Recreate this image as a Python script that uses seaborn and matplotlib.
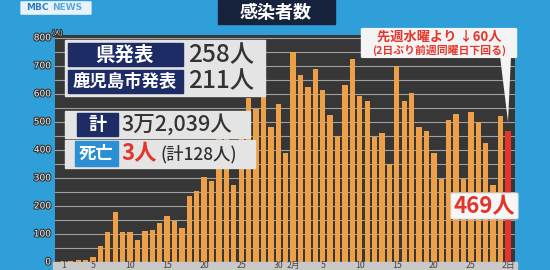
import matplotlib
matplotlib.use("Agg")
import matplotlib.pyplot as plt
import matplotlib.patheffects as pe
from matplotlib.patches import Rectangle, FancyBboxPatch, Polygon
import seaborn as sns
import pandas as pd

# ---- data ----
jan_values = [2, 3, 6, 8, 17, 58, 108, 179, 106, 106, 79, 111, 113, 138, 164, 146,
              121, 237, 255, 305, 289, 460, 470, 274, 510, 585, 545, 626, 481, 564, 390]
feb_values = [748, 668, 626, 688, 612, 525, 450, 632, 724, 593, 575, 445, 462, 349,
              700, 573, 602, 483, 468, 388, 295, 505, 529, 295, 536, 498, 426, 275]
mar_values = [521, 469]
days = ([f"1/{d}" for d in range(1, 32)] + [f"2/{d}" for d in range(1, 29)]
        + [f"3/{d}" for d in range(1, 3)])
values = jan_values + feb_values + mar_values
tick_days = ["1/1", "1/5", "1/10", "1/15", "1/20", "1/25", "1/30", "2/1",
             "2/5", "2/10", "2/15", "2/20", "2/25", "3/2"]
tick_labels = ["1", "5", "10", "15", "20", "25", "30", "2月", "5", "10", "15", "20", "25", "2日"]
y_ticks = [0, 100, 200, 300, 400, 500, 600, 700, 800]

W, H = 550, 270
BLUE = "#2f9fda"
DARK = "#373737"
ORANGE = "#EDA048"
RED = "#E5352B"
NAVY = "#1e2c66"

sns.set_theme(style="dark")
plt.rcParams['font.family'] = ['Noto Sans CJK JP', 'DejaVu Sans']

df = pd.DataFrame({"day": days, "value": values})
df["group"] = ["today" if i == len(days) - 1 else "past" for i in range(len(days))]

fig = plt.figure(figsize=(W / 100, H / 100), dpi=100, facecolor=BLUE)


def fx(x):
    return x / W


def fy(y):
    return 1 - y / H


# axes: x 55..515 px, y 35..262 px
ax = fig.add_axes([fx(55), fy(262), (515 - 55) / W, (262 - 35) / H])
ax.set_facecolor(DARK)
sns.barplot(data=df, x="day", y="value", hue="group", order=days,
            palette={"past": ORANGE, "today": RED}, dodge=False, legend=False,
            width=0.72, saturation=1, linewidth=0, edgecolor="none", ax=ax, zorder=3)
ax.set_xlim(-1.13, len(days) - 0.05)
ax.set_ylim(0, 810)
for v in range(50, 801, 50):
    ax.axhline(v, color="#a0a0a0", lw=0.8, zorder=1)
for s in ax.spines.values():
    s.set_visible(False)
ax.set_xlabel("")
ax.set_ylabel("")
ax.set_xticks([])
ax.set_yticks([])

# y tick labels (outlined)
outline = [pe.withStroke(linewidth=1.6, foreground="#333333")]
for v in y_ticks:
    fig.text(fx(51), fy(262 - v * 0.2802), str(v), ha="right", va="center",
             fontsize=6.5, color="#f0f0f0", path_effects=outline, family="DejaVu Sans")
fig.text(fx(52), fy(33), "(人)", ha="left", va="center", fontsize=4.5,
         color="#f0f0f0", path_effects=outline)

# bottom strip with x tick labels
fig.patches.append(Rectangle((fx(53), 0), (517 - 53) / W, (H - 262) / H,
                             transform=fig.transFigure, color="#c9c9c9", zorder=5))
for d, lab in zip(tick_days, tick_labels):
    i = days.index(d)
    xp = 55 + (i + 1.13) * (460 / (len(days) - 0.05 + 1.13))
    fig.text(fx(xp), fy(269.6), lab, ha="center", va="bottom", fontsize=6.3,
             color="#444444", zorder=6)

# title
fig.patches.append(Rectangle((fx(218), fy(24)), (335 - 218) / W, 24 / H,
                             transform=fig.transFigure, color="#17223c", zorder=5))
fig.text(fx(276), fy(12), "感染者数", ha="center", va="center", fontsize=13,
         color="white", weight="bold", zorder=6)

# logo
fig.patches.append(FancyBboxPatch((fx(22), fy(14)), 68 / W, 12 / H,
                                  boxstyle="round,pad=0.003", transform=fig.transFigure,
                                  facecolor="#e8f2fa", edgecolor="none", zorder=5))
fig.text(fx(26), fy(8), "MBC", ha="left", va="center", fontsize=6.5,
         color="#2a7fc4", weight="bold", family="DejaVu Sans", zorder=6)
fig.text(fx(52), fy(8), "NEWS", ha="left", va="center", fontsize=6.5,
         color="#5aa7dd", weight="bold", family="DejaVu Sans", zorder=6)


def rect(x0, y0, x1, y1, color, z=7):
    fig.patches.append(Rectangle((fx(x0), fy(y1)), (x1 - x0) / W, (y1 - y0) / H,
                                 transform=fig.transFigure, color=color, zorder=z))


PANEL = "#e4e4e4"
# Box A
rect(65, 40, 265, 96, PANEL)
rect(68, 43, 183, 66, NAVY, 8)
rect(68, 70, 183, 93, NAVY, 8)
fig.text(fx(125), fy(55), "県発表", ha="center", va="center", fontsize=14,
         color="white", weight="bold", zorder=9)
fig.text(fx(125), fy(81.5), "鹿児島市発表", ha="center", va="center", fontsize=12.5,
         color="white", weight="bold", zorder=9)
fig.text(fx(188), fy(55), "258人", ha="left", va="center", fontsize=17.5,
         color="#333333", weight="medium", zorder=9)
fig.text(fx(188), fy(81.5), "211人", ha="left", va="center", fontsize=17.5,
         color="#333333", weight="medium", zorder=9)

# Box B
rect(65, 111, 250, 138, PANEL)
rect(77, 113, 118, 136, NAVY, 8)
fig.text(fx(97.5), fy(124.5), "計", ha="center", va="center", fontsize=13,
         color="white", weight="bold", zorder=9)
fig.text(fx(121), fy(124.5), "3万2,039人", ha="left", va="center", fontsize=15.5,
         color="#333333", weight="medium", zorder=9)

# Box C
rect(65, 140, 255, 168, PANEL)
rect(75, 141, 118, 166, "#2a8fd3", 8)
fig.text(fx(96.5), fy(153.5), "死亡", ha="center", va="center", fontsize=12.5,
         color="white", weight="bold", zorder=9)
fig.text(fx(121), fy(153.5), "3人", ha="left", va="center", fontsize=16,
         color=RED, weight="bold", zorder=9)
fig.text(fx(160), fy(154.5), "(計128人)", ha="left", va="center", fontsize=12.5,
         color="#333333", weight="medium", zorder=9)

# callout
fig.patches.append(FancyBboxPatch((fx(363), fy(57)), (515 - 363) / W, (57 - 29) / H,
                                  boxstyle="round,pad=0.004", transform=fig.transFigure,
                                  facecolor="#f4f4f4", edgecolor="none", zorder=7))
fig.patches.append(Polygon([(fx(500), fy(56)), (fx(511), fy(56)), (fx(508), fy(122))],
                           closed=True, transform=fig.transFigure, facecolor="#f4f4f4",
                           edgecolor="none", zorder=7))
fig.text(fx(439), fy(36.5), "先週水曜より ↓60人", ha="center", va="center",
         fontsize=9.5, color=RED, weight="bold", zorder=9,
         family=['Noto Sans CJK JP', 'DejaVu Sans'])
fig.text(fx(439), fy(50), "(2日ぶり前週同曜日下回る)", ha="center", va="center",
         fontsize=7.8, color=RED, weight="bold", zorder=9)

# today label
fig.patches.append(FancyBboxPatch((fx(453), fy(218)), (516 - 453) / W, (218 - 194) / H,
                                  boxstyle="round,pad=0.004", transform=fig.transFigure,
                                  facecolor="#f6f6f6", edgecolor="#d0d0d0", lw=0.6,
                                  zorder=7))
fig.text(fx(484.5), fy(206.5), "469人", ha="center", va="center", fontsize=16,
         color=RED, weight="bold", zorder=9)

fig.savefig("out.png", dpi=100, facecolor=BLUE)
